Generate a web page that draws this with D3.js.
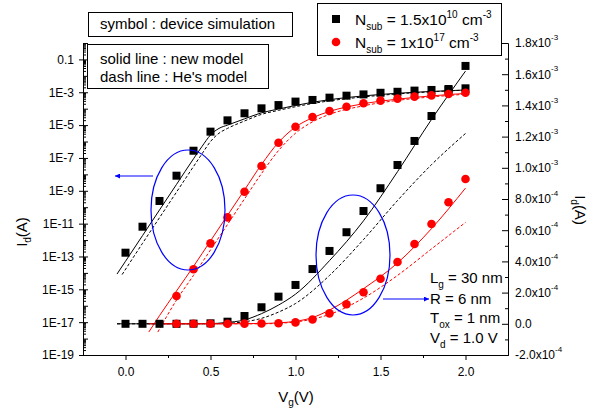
<!DOCTYPE html>
<html>
<head>
<meta charset="utf-8">
<script src="https://cdn.jsdelivr.net/npm/d3@7"></script>
<style>
  html, body { margin: 0; padding: 0; background: #fff; }
  svg { display: block; font-family: "Liberation Sans", Arial, sans-serif; }
</style>
</head>
<body>
<svg id="chart" width="593" height="412"></svg>
<script>
// ---------------- data ----------------
const vgSym = [0.0,0.1,0.2,0.3,0.4,0.5,0.6,0.7,0.8,0.9,1.0,1.1,1.2,1.3,1.4,1.5,1.6,1.7,1.8,1.9,2.0];
// device simulation, Nsub = 1.5e10 (black squares)
const blackSymLog = [1.7e-13,6.5e-12,2.4e-10,8.3e-9,2.75e-7,4.0e-6,1.95e-5,5.25e-5,1.05e-4,1.66e-4,2.7e-4,3.4e-4,4.7e-4,6.2e-4,7.4e-4,9.3e-4,1.07e-3,1.26e-3,1.38e-3,1.58e-3,1.74e-3];
const blackSymLin = [0,0,0,0,1e-6,3e-6,1.35e-5,5.0e-5,1.06e-4,1.74e-4,2.49e-4,3.51e-4,4.67e-4,5.87e-4,7.23e-4,8.69e-4,1.018e-3,1.172e-3,1.332e-3,1.499e-3,1.653e-3];
// device simulation, Nsub = 1e17 (red circles)
const vgSymRed = [0.3,0.4,0.5,0.6,0.7,0.8,0.9,1.0,1.1,1.2,1.3,1.4,1.5,1.6,1.7,1.8,1.9,2.0];
const redSymLog = [3.9e-16,1.66e-14,6.3e-13,2.4e-11,8.7e-10,3.2e-8,8.5e-7,7.9e-6,3.1e-5,7.2e-5,1.32e-4,2.14e-4,3.1e-4,4.1e-4,5.4e-4,6.5e-4,7.8e-4,9.3e-4];
const redSymLin = [0,0,0,0,1e-6,2e-6,4e-6,9e-6,2.8e-5,6.7e-5,1.25e-4,2.02e-4,2.89e-4,3.96e-4,5.12e-4,6.40e-4,7.79e-4,9.28e-4];

// models, log scale
const vgBlackNewLog = [-0.05,0.0,0.1,0.2,0.3,0.4,0.45,0.5,0.55,0.6,0.7,0.8,0.9,1.0,1.2,1.4,1.6,1.8,2.0];
const blackNewLog   = [8.5e-15,5.1e-14,1.86e-12,6.8e-11,2.45e-9,8.9e-8,5.0e-7,2.5e-6,6.3e-6,1.0e-5,2.4e-5,5.6e-5,9.5e-5,1.58e-4,3.55e-4,6.0e-4,8.7e-4,1.12e-3,1.38e-3];
const vgBlackHeLog  = [-0.02,0.1,0.2,0.3,0.4,0.45,0.5,0.55,0.6,0.7,0.8,0.9,1.0,1.2,1.4,1.6,1.8,2.0];
const blackHeLog    = [7.9e-15,6.3e-13,2.3e-11,8.3e-10,3.0e-8,1.78e-7,1.0e-6,3.2e-6,6.3e-6,1.78e-5,4.5e-5,7.9e-5,1.32e-4,3.0e-4,5.2e-4,7.9e-4,1.07e-3,1.35e-3];
const vgRedNewLog   = [0.137,0.2,0.3,0.4,0.5,0.6,0.7,0.8,0.9,1.0,1.1,1.2,1.4,1.6,1.8,2.0];
const redNewLog     = [2.5e-18,2.5e-17,7.9e-16,2.5e-14,8.9e-13,3.2e-11,1.12e-9,4.0e-8,8.9e-7,7.6e-6,2.8e-5,6.8e-5,2.0e-4,3.8e-4,6.0e-4,8.5e-4];
const vgRedHeLog    = [0.19,0.3,0.4,0.5,0.6,0.7,0.8,0.9,1.0,1.1,1.2,1.4,1.6,1.8,2.0];
const redHeLog      = [2.5e-18,2.2e-16,7.1e-15,2.5e-13,8.9e-12,3.2e-10,1.12e-8,2.8e-7,3.2e-6,1.58e-5,4.5e-5,1.5e-4,3.2e-4,5.2e-4,7.6e-4];

// models, linear scale
const vgBlackNewLin = [-0.05,0.3,0.5,0.58,0.7,0.8,0.9,1.0,1.2,1.4,1.6,1.8,2.0];
const blackNewLin   = [0,0,1e-6,7e-6,2.5e-5,6.5e-5,1.2e-4,1.9e-4,4.05e-4,6.6e-4,9.75e-4,1.31e-3,1.62e-3];
const vgBlackHeLin  = [-0.05,0.5,0.6,0.7,0.8,0.9,1.0,1.2,1.4,1.6,1.8,2.0];
const blackHeLin    = [0,0,3e-6,1.3e-5,3.5e-5,7.5e-5,1.3e-4,3.1e-4,5.4e-4,7.9e-4,1.02e-3,1.22e-3];
const vgRedNewLin   = [0.137,0.6,0.8,0.9,1.0,1.1,1.2,1.4,1.6,1.8,2.0];
const redNewLin     = [0,0,2e-6,6e-6,1.6e-5,4.0e-5,8.8e-5,2.25e-4,3.9e-4,6.1e-4,8.7e-4];
const vgRedHeLin    = [0.2,0.8,1.0,1.1,1.2,1.4,1.6,1.8,2.0];
const redHeLin      = [0,0,1.2e-5,3.0e-5,6.0e-5,1.65e-4,3.1e-4,4.8e-4,6.5e-4];

// axes / ticks
const xTicks = [0.0,0.5,1.0,1.5,2.0];
const xMinorTicks = [0.25,0.75,1.25,1.75];
const leftTickVals = [1e-19,1e-17,1e-15,1e-13,1e-11,1e-9,1e-7,1e-5,1e-3,1e-1];
const leftTickLabels = ["1E-19","1E-17","1E-15","1E-13","1E-11","1E-9","1E-7","1E-5","1E-3","0.1"];
const rightTickVals = [-2e-4,0,2e-4,4e-4,6e-4,8e-4,1.0e-3,1.2e-3,1.4e-3,1.6e-3,1.8e-3];
const rightTickMant = ["-2.0x10","0.0","2.0x10","4.0x10","6.0x10","8.0x10","1.0x10","1.2x10","1.4x10","1.6x10","1.8x10"];
const rightTickExp  = ["-4","","-4","-4","-4","-4","-3","-3","-3","-3","-3"];
const rightMinorVals = [-1e-4,1e-4,3e-4,5e-4,7e-4,9e-4,1.1e-3,1.3e-3,1.5e-3,1.7e-3];

const paramLines = [["L","g"," = 30 nm"],["R",""," = 6 nm"],["T","ox"," = 1 nm"],["V","d"," = 1.0 V"]];

// ---------------- layout ----------------
const L = 83, R = 508, T = 43, B = 355;
const svg = d3.select("#chart");
const x = d3.scaleLinear().domain([-0.25, 2.25]).range([L, R]);
const yL = d3.scaleLog().domain([1e-19, 1]).range([B, T]);
const yR = d3.scaleLinear().domain([-2e-4, 1.8e-3]).range([B, T]);

function styleAxis(g) {
  g.selectAll("path.domain").attr("stroke", "#000").attr("stroke-width", 1);
  g.selectAll(".tick line").attr("stroke", "#000").attr("stroke-width", 1);
  g.selectAll(".tick text").attr("fill", "#000").attr("font-size", 12)
    .attr("font-family", "Liberation Sans, Arial, sans-serif");
}

// bottom axis
svg.append("g").attr("transform", `translate(0,${B})`)
  .call(d3.axisBottom(x).tickValues(xMinorTicks).tickSize(3).tickFormat("").tickSizeOuter(0))
  .call(styleAxis);
svg.append("g").attr("transform", `translate(0,${B})`)
  .call(d3.axisBottom(x).tickValues(xTicks).tickSize(5).tickPadding(7).tickFormat(d3.format(".1f")).tickSizeOuter(0))
  .call(styleAxis);

// left axis
const decades = d3.range(-19, 1).map(e => Math.pow(10, e));
const leftMinor = [];
decades.slice(0, -1).forEach(d => { for (let k = 2; k <= 9; k++) leftMinor.push(d * k); });
svg.append("g").attr("transform", `translate(${L},0)`)
  .call(d3.axisLeft(yL).tickValues(leftMinor).tickSize(-3).tickFormat("").tickSizeOuter(0))
  .call(styleAxis);
svg.append("g").attr("transform", `translate(${L},0)`)
  .call(d3.axisLeft(yL).tickValues(decades).tickSize(-5).tickFormat("").tickSizeOuter(0))
  .call(styleAxis);
svg.append("g").attr("transform", `translate(${L},0)`)
  .call(d3.axisLeft(yL).tickValues(leftTickVals).tickSize(4).tickPadding(5)
    .tickFormat((d, i) => leftTickLabels[i]).tickSizeOuter(0))
  .call(styleAxis);

// right axis
svg.append("g").attr("transform", `translate(${R},0)`)
  .call(d3.axisRight(yR).tickValues(rightMinorVals).tickSize(-3).tickFormat("").tickSizeOuter(0))
  .call(styleAxis);
const rAx = svg.append("g").attr("transform", `translate(${R},0)`)
  .call(d3.axisRight(yR).tickValues(rightTickVals).tickSize(-6).tickPadding(7)
    .tickFormat((d, i) => rightTickMant[i]).tickSizeOuter(0))
  .call(styleAxis);
rAx.selectAll(".tick text").each(function(d, i) {
  const t = d3.select(this);
  if (rightTickExp[i]) {
    t.append("tspan").attr("font-size", 8).attr("dy", "-0.9em").text(rightTickExp[i]);
  }
});

// axis titles
const xt = svg.append("text").attr("x", 296).attr("y", 402).attr("text-anchor", "middle")
  .attr("font-size", 15).attr("fill", "#000");
xt.append("tspan").text("V");
xt.append("tspan").attr("font-size", 10).attr("dy", 4).text("g");
xt.append("tspan").attr("dy", -4).text("(V)");

const ylt = svg.append("text").attr("transform", "translate(27,232) rotate(-90)")
  .attr("text-anchor", "middle").attr("font-size", 15).attr("fill", "#000");
ylt.append("tspan").text("I");
ylt.append("tspan").attr("font-size", 10).attr("dy", 4).text("d");
ylt.append("tspan").attr("dy", -4).text("(A)");

const yrt = svg.append("text").attr("transform", "translate(575,210) rotate(90)")
  .attr("text-anchor", "middle").attr("font-size", 15).attr("fill", "#000");
yrt.append("tspan").text("I");
yrt.append("tspan").attr("font-size", 10).attr("dy", 4).text("d");
yrt.append("tspan").attr("dy", -4).text("(A)");

// ---------------- lines ----------------
function drawLine(vgs, vals, yScale, color, dashed) {
  const pts = vgs.map((v, i) => [v, vals[i]]);
  const line = d3.line().x(d => x(d[0])).y(d => yScale(d[1])).curve(d3.curveMonotoneX);
  svg.append("path").attr("d", line(pts)).attr("fill", "none")
    .attr("stroke", color).attr("stroke-width", 1)
    .attr("stroke-dasharray", dashed ? "3,2" : null);
}
drawLine(vgBlackHeLog, blackHeLog, yL, "#000", true);
drawLine(vgBlackNewLog, blackNewLog, yL, "#000", false);
drawLine(vgRedHeLog, redHeLog, yL, "#ff0000", true);
drawLine(vgRedNewLog, redNewLog, yL, "#ff0000", false);
drawLine(vgBlackHeLin, blackHeLin, yR, "#000", true);
drawLine(vgBlackNewLin, blackNewLin, yR, "#000", false);
drawLine(vgRedHeLin, redHeLin, yR, "#ff0000", true);
drawLine(vgRedNewLin, redNewLin, yR, "#ff0000", false);

// ---------------- symbols ----------------
const sq = 8;
function drawSquares(vgs, vals, yScale) {
  svg.append("g").selectAll("rect").data(vgs.map((v, i) => [v, vals[i]])).join("rect")
    .attr("x", d => x(d[0]) - sq / 2).attr("y", d => yScale(d[1]) - sq / 2)
    .attr("width", sq).attr("height", sq).attr("fill", "#000");
}
function drawCircles(vgs, vals, yScale) {
  svg.append("g").selectAll("circle").data(vgs.map((v, i) => [v, vals[i]])).join("circle")
    .attr("cx", d => x(d[0])).attr("cy", d => yScale(d[1])).attr("r", 4.3).attr("fill", "#ff0000");
}
drawSquares(vgSym, blackSymLog, yL);
drawSquares(vgSym, blackSymLin, yR);
drawCircles(vgSymRed, redSymLog, yL);
drawCircles(vgSymRed, redSymLin, yR);

// ---------------- annotations ----------------
svg.append("defs").append("marker").attr("id", "arr").attr("viewBox", "0 0 10 10")
  .attr("refX", 10).attr("refY", 5).attr("markerWidth", 7).attr("markerHeight", 5)
  .attr("orient", "auto-start-reverse").attr("markerUnits", "userSpaceOnUse")
  .append("path").attr("d", "M0,0 L10,5 L0,10 z").attr("fill", "#0000ff");

svg.append("ellipse").attr("cx", 188).attr("cy", 210).attr("rx", 37).attr("ry", 60)
  .attr("fill", "none").attr("stroke", "#0000ff").attr("stroke-width", 1.2);
svg.append("ellipse").attr("cx", 353).attr("cy", 255).attr("rx", 37).attr("ry", 60)
  .attr("fill", "none").attr("stroke", "#0000ff").attr("stroke-width", 1.2);
svg.append("line").attr("x1", 153).attr("y1", 176).attr("x2", 115).attr("y2", 176)
  .attr("stroke", "#0000ff").attr("stroke-width", 1).attr("marker-end", "url(#arr)");
svg.append("line").attr("x1", 383).attr("y1", 299).attr("x2", 429).attr("y2", 299)
  .attr("stroke", "#0000ff").attr("stroke-width", 1).attr("marker-end", "url(#arr)");

// parameter text
const pBase = [283, 304, 323, 343];
paramLines.forEach((p, i) => {
  const t = svg.append("text").attr("x", 430).attr("y", pBase[i]).attr("font-size", 15).attr("fill", "#000");
  t.append("tspan").text(p[0]);
  if (p[1]) {
    t.append("tspan").attr("font-size", 10).attr("dy", 5).text(p[1]);
    t.append("tspan").attr("dy", -5).text(p[2]);
  } else {
    t.append("tspan").text(p[2]);
  }
});

// text boxes
svg.append("rect").attr("x", 88.5).attr("y", 12.5).attr("width", 204).attr("height", 24)
  .attr("fill", "#fff").attr("stroke", "#000").attr("stroke-width", 1);
svg.append("text").attr("x", 100).attr("y", 29).attr("font-size", 15).attr("fill", "#000")
  .text("symbol : device simulation");
svg.append("rect").attr("x", 87.5).attr("y", 44.5).attr("width", 181).attr("height", 44)
  .attr("fill", "#fff").attr("stroke", "#000").attr("stroke-width", 1);
svg.append("text").attr("x", 100).attr("y", 64).attr("font-size", 15).attr("fill", "#000")
  .text("solid line : new model");
svg.append("text").attr("x", 100).attr("y", 82).attr("font-size", 15).attr("fill", "#000")
  .text("dash line : He's model");

// series legend
svg.append("rect").attr("x", 317.5).attr("y", 3.5).attr("width", 184).attr("height", 52)
  .attr("fill", "#fff").attr("stroke", "#000").attr("stroke-width", 1);
svg.append("rect").attr("x", 336 - sq / 2).attr("y", 19 - sq / 2).attr("width", sq).attr("height", sq).attr("fill", "#000");
svg.append("circle").attr("cx", 336).attr("cy", 42).attr("r", 4.3).attr("fill", "#ff0000");
const legendRows = [["1.5x10", "10", 25], ["1x10", "17", 48]];
legendRows.forEach(r => {
  const t = svg.append("text").attr("x", 355).attr("y", r[2]).attr("font-size", 15.5).attr("fill", "#000");
  t.append("tspan").text("N");
  t.append("tspan").attr("font-size", 10).attr("dy", 5).text("sub");
  t.append("tspan").attr("dy", -5).text(" = " + r[0]);
  t.append("tspan").attr("font-size", 10).attr("dy", -7).text(r[1]);
  t.append("tspan").attr("dy", 7).text(" cm");
  t.append("tspan").attr("font-size", 10).attr("dy", -7).text("-3");
});
</script>
</body>
</html>
